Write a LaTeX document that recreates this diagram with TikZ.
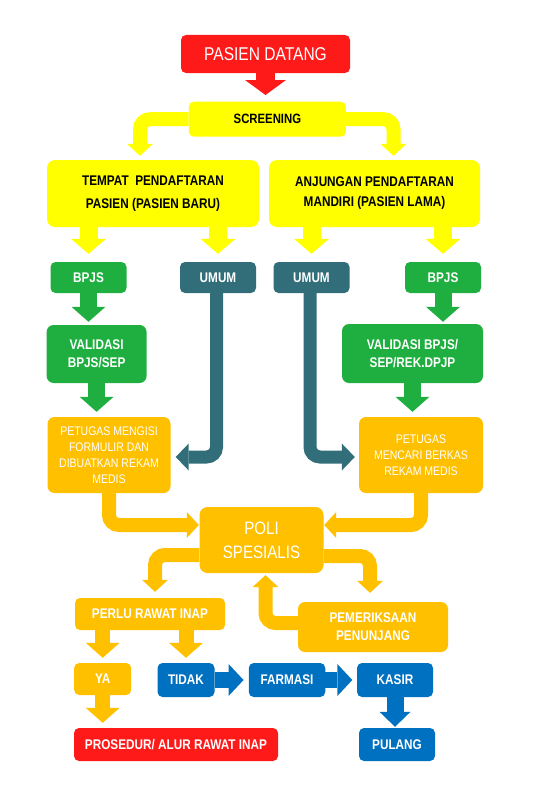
\documentclass[tikz,border=0pt]{standalone}
\usepackage{fontspec}
\setmainfont{Liberation Sans}[FakeStretch=0.84]
\usetikzlibrary{arrows.meta,backgrounds}

\definecolor{cred}{HTML}{FF1A1A}
\definecolor{cyellow}{HTML}{FFFF00}
\definecolor{cgreen}{HTML}{1FAF40}
\definecolor{cteal}{HTML}{316E7A}
\definecolor{corange}{HTML}{FFC000}
\definecolor{cblue}{HTML}{0070C0}
\newcommand{\fsz}[2]{\fontsize{#1}{#2}\selectfont}

\begin{document}
\begin{tikzpicture}[x=1pt,y=-1pt,
  box/.style={rounded corners=5pt,inner sep=0pt,align=center,text=white},
  blockarrow/.style={draw=#1,line width=17pt,-{Triangle[width=34pt,length=15pt,line width=0pt]}},
  bentarrow/.style={draw=#1,line width=14pt,rounded corners=10pt,-{Triangle[width=26pt,length=12pt,line width=0pt]}}]
\useasboundingbox (0,0) rectangle (534,800);

% top
\node[box,fill=cred,minimum width=169pt,minimum height=38pt,font=\fsz{18.5}{22}] (datang) at (265.5,54) {PASIEN DATANG};
\node[box,fill=cyellow,text=black,minimum width=157pt,minimum height=35pt,font=\fsz{13.5}{16}\bfseries] (screen) at (267.4,119.2) {SCREENING};
\node[box,fill=cyellow,text=black,rounded corners=8pt,minimum width=212pt,minimum height=67pt,font=\fsz{14}{23.7}\bfseries] (tpp) at (153,193.5) {TEMPAT\ \ PENDAFTARAN\\PASIEN (PASIEN BARU)};
\node[box,fill=cyellow,text=black,rounded corners=8pt,minimum width=211pt,minimum height=67pt,font=\fsz{14}{20}\bfseries] (apm) at (374.5,193.5) {ANJUNGAN PENDAFTARAN\\MANDIRI (PASIEN LAMA)};

% bpjs / umum
\node[box,fill=cgreen,minimum width=76pt,minimum height=31pt,font=\fsz{14}{17}\bfseries] (bpjsL) at (88.5,277.5) {BPJS};
\node[box,fill=cteal,minimum width=76pt,minimum height=31pt,font=\fsz{14}{17}\bfseries] (umumL) at (218,277.5) {UMUM};
\node[box,fill=cteal,minimum width=76pt,minimum height=31pt,font=\fsz{14}{17}\bfseries] (umumR) at (311.5,277.5) {UMUM};
\node[box,fill=cgreen,minimum width=76pt,minimum height=31pt,font=\fsz{14}{17}\bfseries] (bpjsR) at (443,277.5) {BPJS};

\node[box,fill=cgreen,rounded corners=7pt,minimum width=100pt,minimum height=58pt,font=\fsz{14}{18.3}\bfseries] (valL) at (96.6,354) {VALIDASI\\BPJS/SEP};
\node[box,fill=cgreen,rounded corners=7pt,minimum width=141pt,minimum height=59pt,font=\fsz{14}{18.3}\bfseries] (valR) at (412.5,353.5) {VALIDASI BPJS/\\SEP/REK.DPJP};

\node[box,fill=corange,rounded corners=7pt,minimum width=123pt,minimum height=76pt,font=\fsz{12.5}{16}] (petL) at (109,455) {PETUGAS MENGISI\\FORMULIR DAN\\DIBUATKAN REKAM\\MEDIS};
\node[box,fill=corange,rounded corners=7pt,minimum width=124pt,minimum height=76pt,font=\fsz{12.5}{16}] (petR) at (421,455) {PETUGAS\\MENCARI BERKAS\\REKAM MEDIS};

% poli
\node[box,fill=corange,rounded corners=8pt,minimum width=124pt,minimum height=66pt,font=\fsz{18}{24.3}] (poli) at (261.5,540) {POLI\\SPESIALIS};
\node[box,fill=corange,minimum width=150pt,minimum height=32pt,font=\fsz{14}{17}\bfseries] (perlu) at (150,614) {PERLU RAWAT INAP};
\node[box,fill=corange,rounded corners=7pt,minimum width=150pt,minimum height=50pt,font=\fsz{14}{18}\bfseries] (periksa) at (373,627) {PEMERIKSAAN\\PENUNJANG};

\node[box,fill=corange,minimum width=57pt,minimum height=32pt,font=\fsz{14}{17}\bfseries] (ya) at (102.7,679) {YA};
\node[box,fill=cblue,minimum width=57pt,minimum height=34pt,font=\fsz{14}{17}\bfseries] (tidak) at (186,680) {TIDAK};
\node[box,fill=cblue,minimum width=76.5pt,minimum height=34pt,font=\fsz{14}{17}\bfseries] (farmasi) at (287,680) {FARMASI};
\node[box,fill=cblue,minimum width=76pt,minimum height=34pt,font=\fsz{14}{17}\bfseries] (kasir) at (395,680) {KASIR};
\node[box,fill=cred,minimum width=204pt,minimum height=33pt,font=\fsz{14}{17}\bfseries] (prosedur) at (176,744.5) {PROSEDUR/ ALUR RAWAT INAP};
\node[box,fill=cblue,minimum width=76pt,minimum height=33pt,font=\fsz{14}{17}\bfseries] (pulang) at (397,744.5) {PULANG};

\begin{scope}[on background layer]
  \draw[blockarrow=cred,line width=19pt,-{Triangle[width=41pt,length=15pt,line width=0pt]},shorten >=6.5pt] (datang.south) -- (datang.south |- screen.north);
  % screening branches
  \draw[bentarrow=cyellow,shorten >=4pt] (screen.west) -| ([xshift=-13pt]tpp.north);
  \draw[bentarrow=cyellow,shorten >=4pt] (screen.east) -| ([xshift=19pt]apm.north);
  \draw[blockarrow=cyellow,line width=18pt,-{Triangle[width=35pt,length=15pt,line width=0pt]},shorten >=8pt] (bpjsL.north |- tpp.south) -- (bpjsL.north);
  \draw[blockarrow=cyellow,line width=18pt,-{Triangle[width=35pt,length=15pt,line width=0pt]},shorten >=8pt] (umumL.north |- tpp.south) -- (umumL.north);
  \draw[blockarrow=cyellow,line width=18pt,-{Triangle[width=35pt,length=15pt,line width=0pt]},shorten >=8pt] (umumR.north |- apm.south) -- (umumR.north);
  \draw[blockarrow=cyellow,line width=18pt,-{Triangle[width=35pt,length=15pt,line width=0pt]},shorten >=8pt] (bpjsR.north |- apm.south) -- (bpjsR.north);
  % bpjs
  \draw[blockarrow=cgreen,shorten >=3pt] (bpjsL.south) -- (bpjsL.south |- valL.north);
  \draw[blockarrow=cgreen,shorten >=2pt] (bpjsR.south) -- (bpjsR.south |- valR.north);
  \draw[blockarrow=cgreen,shorten >=5pt] (valL.south) -- (valL.south |- petL.north);
  \draw[blockarrow=cgreen,shorten >=5pt] (valR.south) -- (valR.south |- petR.north);
  % umum
  \draw[bentarrow=cteal,line width=13pt,-{Triangle[width=27pt,length=13pt,line width=0pt]},shorten >=5pt] ([xshift=-1.5pt]umumL.south) |- ([yshift=-2pt]petL.east);
  \draw[bentarrow=cteal,line width=13pt,-{Triangle[width=27pt,length=13pt,line width=0pt]},shorten >=4pt] ([xshift=-1.5pt]umumR.south) |- ([yshift=-2pt]petR.west);
  % to poli and back
  \draw[bentarrow=corange,shorten >=0.5pt] (petL.south) |- ([yshift=15pt]poli.west);
  \draw[bentarrow=corange,shorten >=0.5pt] (petR.south) |- ([yshift=15pt]poli.east);
  \draw[bentarrow=corange,shorten >=6pt] ([yshift=-15pt]poli.west) -| ([xshift=5pt]perlu.north);
  \draw[bentarrow=corange,shorten >=9pt] ([yshift=-16pt]poli.east) -| ([xshift=-3pt]periksa.north);
  \draw[bentarrow=corange,shorten >=2pt] ([yshift=4pt]periksa.west) -| ([xshift=4pt]poli.south);
  % rawat inap
  \draw[blockarrow=corange,line width=15pt,shorten >=5pt] (ya.north |- perlu.south) -- (ya.north);
  \draw[blockarrow=corange,line width=15pt,shorten >=5pt] (tidak.north |- perlu.south) -- (tidak.north);
  \draw[blockarrow=corange,line width=15pt,shorten >=5pt] (ya.south) -- (ya.south |- prosedur.north);
  \draw[blockarrow=cblue,line width=16pt,-{Triangle[width=32pt,length=15pt,line width=0pt]},shorten >=5pt] (tidak.east) -- (farmasi.west);
  \draw[blockarrow=cblue,line width=16pt,-{Triangle[width=32pt,length=15pt,line width=0pt]},shorten >=4.5pt] (farmasi.east) -- (kasir.west);
  \draw[blockarrow=cblue,-{Triangle[width=31pt,length=15pt,line width=0pt]},shorten >=1pt] (kasir.south) -- (kasir.south |- pulang.north);
\end{scope}
\end{tikzpicture}
\end{document}
